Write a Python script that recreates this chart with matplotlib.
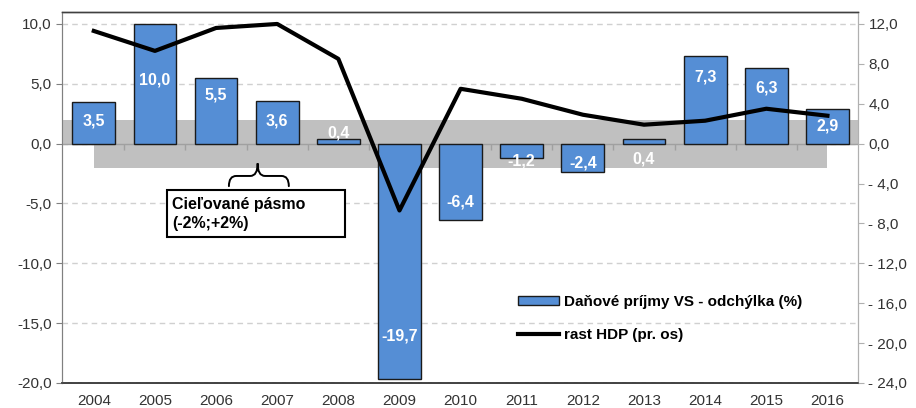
import numpy as np
import matplotlib
matplotlib.use('Agg')
import matplotlib.pyplot as plt
from matplotlib.path import Path
from matplotlib.patches import PathPatch, Rectangle
from matplotlib.ticker import FuncFormatter, MultipleLocator

plt.rcParams['font.family'] = ['Liberation Sans', 'DejaVu Sans']

years = ['2004', '2005', '2006', '2007', '2008', '2009', '2010',
         '2011', '2012', '2013', '2014', '2015', '2016']
tax_dev = [3.5, 10.0, 5.5, 3.6, 0.4, -19.7, -6.4, -1.2, -2.4, 0.4, 7.3, 6.3, 2.9]
gdp_growth = [11.3, 9.3, 11.6, 12.0, 8.5, -6.7, 5.5, 4.5, 2.9, 1.9, 2.3, 3.5, 2.8]
band_low, band_high = -2.0, 2.0

# where each value label sits (left-axis units), hand placed like the original
label_at = [1.9, 5.3, 4.1, 1.9, 0.9, -16.1, -4.9, -1.45, -1.65, -1.25, 5.6, 4.65, 1.45]

bar_color = '#558ed5'
band_color = '#c0c0c0'
txt = '#333333'

fig = plt.figure(figsize=(9.16, 4.08), dpi=100)
ax = fig.add_axes([62/916, 25/408, 796/916, 371/408])
ax2 = ax.twinx()

x = np.arange(len(years))

# target band: upper half spans the whole axis, lower half centre to centre
ax.add_patch(Rectangle((-0.5, 0), len(years), band_high, color=band_color, zorder=1, lw=0))
ax.add_patch(Rectangle((0, band_low), len(years) - 1, -band_low, color=band_color, zorder=1, lw=0))

bars = ax.bar(x, tax_dev, width=0.7, color=bar_color, edgecolor='#1a1a1a',
              linewidth=1.0, zorder=3, label='Daňové príjmy VS - odchýlka (%)')

for xi, v, ly in zip(x, tax_dev, label_at):
    ax.text(xi, ly, f'{v:.1f}'.replace('.', ','), ha='center', va='center',
            color='white', fontsize=11.5, fontweight='bold', zorder=5)

ax.set_xlim(-0.52, 12.5)
ax.set_ylim(-20, 11)
ax.yaxis.set_major_locator(MultipleLocator(5))
ax.yaxis.set_major_formatter(FuncFormatter(lambda v, p: f'{v:.1f}'.replace('.', ',')))
ax.grid(axis='y', color='#d0d0d0', linestyle=(0, (4, 3)), linewidth=1.0, zorder=0)
ax.set_axisbelow(True)

# zero line with category ticks
ax.axhline(0, color='#a0a0a0', lw=1.0, zorder=2)
ax.vlines(x[:-1] + 0.5, -0.5, 0, color='#a0a0a0', lw=1.0, zorder=2)

ax.set_xticks(x)
ax.set_xticklabels(years)
ax.tick_params(axis='x', length=0, pad=8, labelsize=11, colors=txt)
ax.tick_params(axis='y', length=4, labelsize=11, colors=txt, color='#808080')

ax2.set_ylim(-24, 13.2)
ax2.yaxis.set_major_locator(MultipleLocator(4))
ax2.yaxis.set_major_formatter(FuncFormatter(
    lambda v, p: ('- ' if v < 0 else '') + f'{abs(v):.1f}'.replace('.', ',')))
ax2.tick_params(axis='y', length=4, labelsize=11, colors=txt, color='#b0b0b0')

ax.set_zorder(ax2.get_zorder() + 1)
ax.patch.set_visible(False)
# GDP line belongs to the right axis, drawn on the front axes so it sits over the bars
gdp_line, = ax.plot(x, gdp_growth, color='black', lw=3, zorder=6,
                    transform=ax2.transData, label='rast HDP (pr. os)')

for a in (ax, ax2):
    a.spines['top'].set_color('#404040')
    a.spines['bottom'].set_color('#404040')
    a.spines['left'].set_color('#808080')
    a.spines['right'].set_color('#b0b0b0')
    a.spines['bottom'].set_linewidth(1.2)
    a.spines['top'].set_linewidth(1.0)

# curly brace over the annotation box
bx0, bx1, btip = 2.21, 3.19, 2.68
yb, ym, yt = -3.55, -2.7, -1.65
r = 0.12
verts = [(bx0, yb), (bx0, ym), (bx0 + r, ym),
         (btip - r, ym),
         (btip, ym), (btip, yt),
         (btip, ym), (btip + r, ym),
         (bx1 - r, ym),
         (bx1, ym), (bx1, yb)]
codes = [Path.MOVETO, Path.CURVE3, Path.CURVE3,
         Path.LINETO,
         Path.CURVE3, Path.CURVE3,
         Path.CURVE3, Path.CURVE3,
         Path.LINETO,
         Path.CURVE3, Path.CURVE3]
ax.add_patch(PathPatch(Path(verts, codes), fill=False, lw=1.4, color='black',
                       zorder=7, capstyle='round'))

ax.add_patch(Rectangle((1.19, -7.82), 2.92, 3.95, fc='white', ec='black', lw=1.5, zorder=8))
ax.text(1.28, -5.05, 'Cieľované pásmo', fontsize=11.5, fontweight='bold',
        ha='left', va='center', color='black', zorder=9)
ax.text(1.28, -6.65, '(-2%;+2%)', fontsize=11.5, fontweight='bold',
        ha='left', va='center', color='black', zorder=9)

ax.legend([bars, gdp_line], ['Daňové príjmy VS - odchýlka (%)', 'rast HDP (pr. os)'],
          loc='upper left', bbox_to_anchor=(0.573, 0.237),
          frameon=False, borderpad=0, borderaxespad=0, handlelength=2.7,
          handleheight=0.5, handletextpad=0.3, labelspacing=1.25,
          prop={'weight': 'bold', 'size': 11})

fig.savefig('out.png', dpi=100)
